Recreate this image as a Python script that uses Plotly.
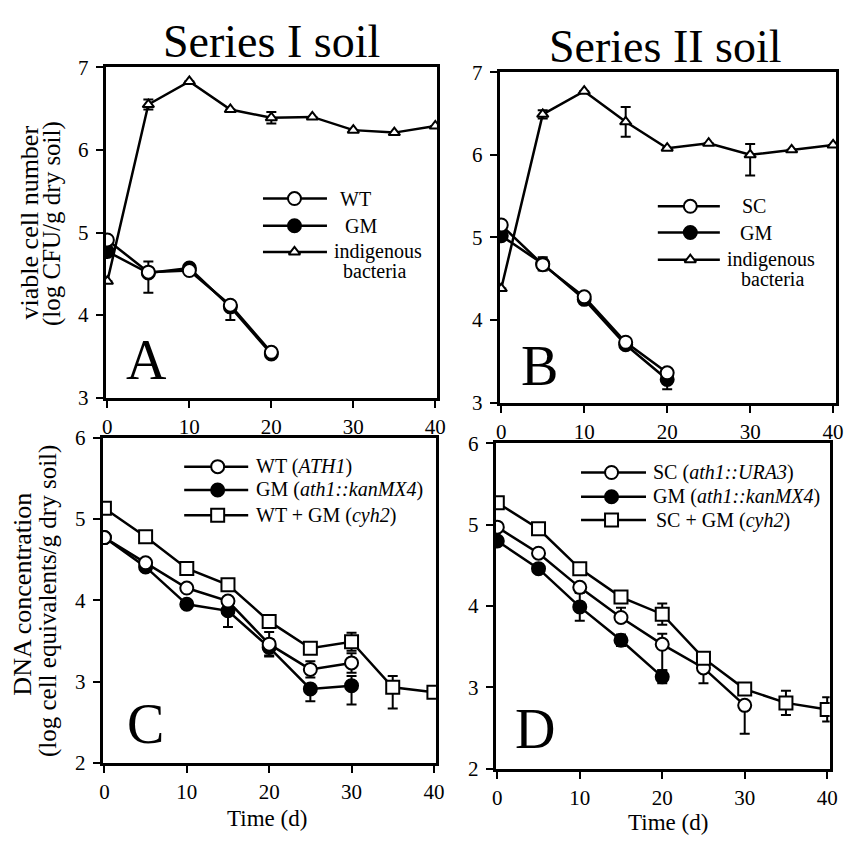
import plotly.graph_objects as go

W, H = 848, 842
FONT = "Liberation Serif, Times New Roman, serif"

# sampling days
days = [0, 5, 10, 15, 20, 25, 30, 35, 40]
days20 = [0, 5, 10, 15, 20]
days30 = [0, 5, 10, 15, 20, 25, 30]

# Panel A: Series I soil, viable cell number (log CFU/g dry soil)
a_wt = [4.91, 4.52, 4.54, 4.12, 3.55]
a_wt_up = [None, 0.13, None, None, None]
a_wt_dn = [None, 0.25, None, 0.18, None]
a_gm = [4.77, 4.51, 4.57, 4.10, 3.53]
a_ind = [4.41, 6.55, 6.83, 6.49, 6.39, 6.40, 6.24, 6.21, 6.29]
a_ind_err = [None, 0.06, None, None, 0.07, None, None, None, None]

# Panel B: Series II soil, viable cell number
b_sc = [5.15, 4.67, 4.28, 3.73, 3.36]
b_gm = [5.02, 4.68, 4.25, 3.70, 3.28]
b_gm_err = [None, 0.08, None, None, 0.12]
b_ind = [4.38, 6.49, 6.77, 6.40, 6.08, 6.14, 6.00, 6.06, 6.12]
b_ind_up = [None, 0.05, None, 0.18, None, None, 0.13, None, None]
b_ind_dn = [None, 0.05, None, 0.18, None, None, 0.25, None, None]

# Panel C: Series I soil, DNA concentration (log cell equivalents/g dry soil)
c_wt = [4.77, 4.46, 4.15, 3.99, 3.46, 3.15, 3.23]
c_wt_err = [None, None, None, None, 0.15, 0.10, 0.12]
c_gm = [4.77, 4.41, 3.95, 3.87, 3.42, 2.91, 2.95]
c_gm_up = [None, None, None, None, 0.10, None, 0.12]
c_gm_dn = [None, None, None, 0.20, 0.10, 0.15, 0.23]
c_mix = [5.13, 4.78, 4.39, 4.19, 3.74, 3.41, 3.49, 2.93, 2.87]
c_mix_up = [None, None, None, None, 0.08, None, 0.11, 0.14, None]
c_mix_dn = [None, None, None, None, 0.08, None, 0.11, 0.26, None]

# Panel D: Series II soil, DNA concentration
d_sc = [4.97, 4.65, 4.23, 3.86, 3.53, 3.24, 2.78]
d_sc_up = [None, None, None, 0.12, 0.13, None, None]
d_sc_dn = [None, None, None, None, 0.32, 0.19, 0.35]
d_gm = [4.80, 4.46, 3.99, 3.58, 3.13]
d_gm_err = [None, None, 0.17, 0.07, 0.08]
d_mix = [5.27, 4.95, 4.46, 4.11, 3.90, 3.36, 2.98, 2.81, 2.73]
d_mix_err = [None, None, None, None, 0.13, None, None, 0.15, 0.15]

x_ticks = [0, 10, 20, 30, 40]

MARK = {
    "open": dict(symbol="circle", size=13, color="white", line=dict(color="black", width=2)),
    "filled": dict(symbol="circle", size=13, color="black", line=dict(color="black", width=2)),
    "square": dict(symbol="square", size=13, color="white", line=dict(color="black", width=2)),
    "tri": dict(symbol="triangle-up", size=10, color="white", line=dict(color="black", width=2)),
}


def series(ax, x, y, kind, up=None, dn=None):
    err = None
    if up is not None:
        err = dict(type="data", array=up, arrayminus=dn if dn is not None else up,
                   symmetric=False, color="black", thickness=2, width=5)
    return go.Scatter(x=x, y=y, mode="lines+markers", xaxis="x" + ax, yaxis="y" + ax,
                      line=dict(color="black", width=2.5), marker=MARK[kind],
                      error_y=err, showlegend=False, hoverinfo="skip")


fig = go.Figure()

fig.add_trace(series("", days, a_ind, "tri", a_ind_err))
fig.add_trace(series("", days20, a_gm, "filled"))
fig.add_trace(series("", days20, a_wt, "open", a_wt_up, a_wt_dn))

fig.add_trace(series("2", days, b_ind, "tri", b_ind_up, b_ind_dn))
fig.add_trace(series("2", days20, b_gm, "filled", b_gm_err))
fig.add_trace(series("2", days20, b_sc, "open"))

fig.add_trace(series("3", days30, c_gm, "filled", c_gm_up, c_gm_dn))
fig.add_trace(series("3", days30, c_wt, "open", c_wt_err))
fig.add_trace(series("3", days, c_mix, "square", c_mix_up, c_mix_dn))

fig.add_trace(series("4", days20, d_gm, "filled", d_gm_err))
fig.add_trace(series("4", days30, d_sc, "open", d_sc_up, d_sc_dn))
fig.add_trace(series("4", days, d_mix, "square", d_mix_err))


def fx(px):
    return px / W


def fy(py):
    return 1 - py / H


# legend glyphs, drawn on a pixel overlay axis
legend_rows = [
    (263, 328, 295, [(192, "open"), (220, "filled"), (247, "tri")]),
    (664, 727, 697, [(200, "open"), (227, "filled"), (255, "tri")]),
    (183, 248, 217, [(468, "open"), (492, "filled"), (518, "square")]),
    (586, 652, 617, [(474, "open"), (499, "filled"), (523, "square")]),
]
for x0, x1, xm, rows in legend_rows:
    for yy, kind in rows:
        fig.add_trace(go.Scatter(x=[x0, x1], y=[yy, yy], mode="lines", xaxis="x5", yaxis="y5",
                                 line=dict(color="black", width=2.5), showlegend=False, hoverinfo="skip"))
        fig.add_trace(go.Scatter(x=[xm], y=[yy], mode="markers", xaxis="x5", yaxis="y5",
                                 marker=MARK[kind], showlegend=False, hoverinfo="skip"))

ax_common = dict(showline=True, linewidth=3, linecolor="black", mirror=True, showgrid=False,
                 zeroline=False, ticks="outside", ticklen=7, tickwidth=2, tickcolor="black",
                 tickfont=dict(family=FONT, size=21, color="black"), fixedrange=True)

fig.update_layout(
    width=W, height=H,
    margin=dict(l=0, r=0, t=0, b=0),
    paper_bgcolor="white", plot_bgcolor="rgba(0,0,0,0)",
    showlegend=False,
    xaxis=dict(ax_common, domain=[fx(103.3), fx(439.7)], range=[-0.2, 40.2], tickvals=x_ticks,
               anchor="y", ticklabelstandoff=1),
    yaxis=dict(ax_common, domain=[fy(397), fy(57)], range=[3, 7], tickvals=[3, 4, 5, 6, 7],
               anchor="x", ticklabelstandoff=3),
    xaxis2=dict(ax_common, domain=[fx(503.3), fx(845.4)], range=[-0.2, 40.4], tickvals=x_ticks,
                anchor="y2", ticklabelstandoff=1),
    yaxis2=dict(ax_common, domain=[fy(402), fy(62)], range=[3, 7], tickvals=[3, 4, 5, 6, 7],
                anchor="x2", ticklabelstandoff=3),
    xaxis3=dict(ax_common, domain=[fx(100.3), fx(438.7)], range=[-0.2, 40.25], tickvals=x_ticks,
                anchor="y3", ticklabelstandoff=1),
    yaxis3=dict(ax_common, domain=[fy(773), fy(438)], range=[2, 6], tickvals=[2, 3, 4, 5, 6],
                anchor="x3", ticklabelstandoff=3),
    xaxis4=dict(ax_common, domain=[fx(499.3), fx(838.5)], range=[-0.2, 40.3], tickvals=x_ticks,
                anchor="y4", ticklabelstandoff=1),
    yaxis4=dict(ax_common, domain=[fy(779), fy(444)], range=[2, 6], tickvals=[2, 3, 4, 5, 6],
                anchor="x4", ticklabelstandoff=3),
    xaxis5=dict(domain=[0, 1], range=[0, W], visible=False, fixedrange=True, anchor="y5"),
    yaxis5=dict(domain=[0, 1], range=[H, 0], visible=False, fixedrange=True, anchor="x5"),
)


def note(text, px, py, size=20, xanchor="center", angle=0):
    fig.add_annotation(text=text, x=fx(px), y=fy(py), xref="paper", yref="paper",
                       xanchor=xanchor, yanchor="middle", showarrow=False, textangle=angle,
                       font=dict(family=FONT, size=size, color="black"))


# column titles
note("Series I soil", 272, 30, size=46)
note("Series II soil", 672, 35, size=46)

# panel letters
note("A", 145, 358, size=56)
note("B", 544, 364, size=56)
note("C", 144, 733, size=56)
note("D", 539, 738, size=56)

# axis titles
note("viable cell number", 26, 217, size=26, angle=-90)
note("(log CFU/g dry soil)", 49, 218, size=25, angle=-90)
note("DNA concentration", 19, 599, size=26, angle=-90)
note("(log cell equivalents/g dry soil)", 44, 606, size=25, angle=-90)
note("Time (d)", 267, 830, size=23)
note("Time (d)", 674, 834, size=23)

# legend labels
note("WT", 357, 192, size=20)
note("GM", 363, 220, size=20)
note("indigenous", 380, 247, size=20)
note("bacteria", 376, 267, size=20)

note("SC", 762, 200, size=20)
note("GM", 764, 227, size=20)
note("indigenous", 779, 255, size=20)
note("bacteria", 780, 275, size=20)

note("WT (<i>ATH1</i>)", 254, 468, size=20, xanchor="left")
note("GM (<i>ath1::kanMX4</i>)", 254, 492, size=20, xanchor="left")
note("WT + GM (<i>cyh2</i>)", 254, 518, size=20, xanchor="left")

note("SC (<i>ath1::URA3</i>)", 657, 474, size=20, xanchor="left")
note("GM (<i>ath1::kanMX4</i>)", 657, 499, size=20, xanchor="left")
note("SC + GM (<i>cyh2</i>)", 660, 523, size=20, xanchor="left")

# the page body has a default 8px margin; drop it so the figure sits at the window corner
fig.write_html("out.html", config={"displayModeBar": False},
               post_script="document.body.style.margin = '0';")
